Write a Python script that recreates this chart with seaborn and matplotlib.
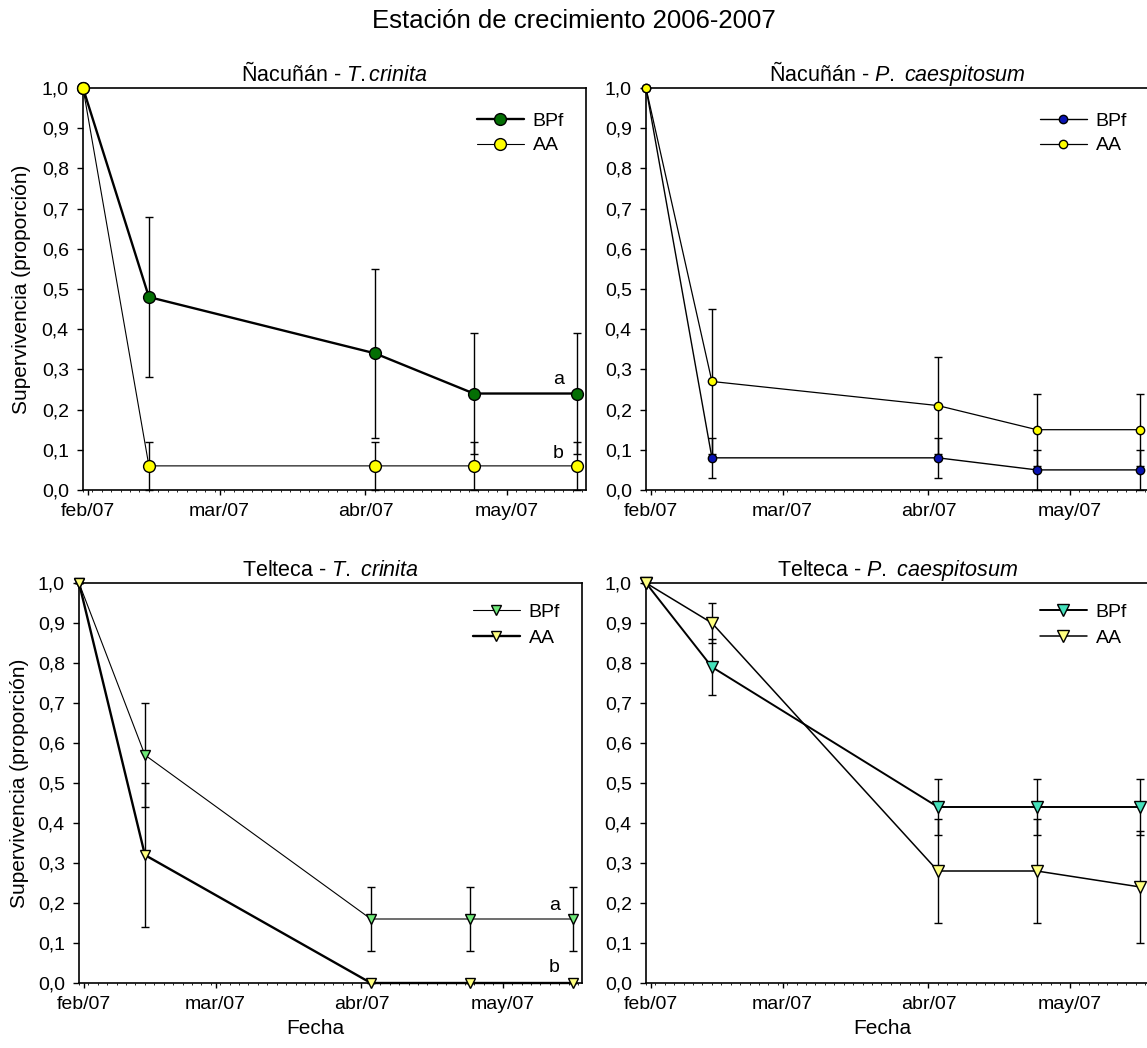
import matplotlib
matplotlib.use("Agg")
import matplotlib.pyplot as plt
import matplotlib.dates as mdates
from matplotlib.ticker import FuncFormatter, MultipleLocator
from matplotlib.lines import Line2D
import pandas as pd
import seaborn as sns

# ---------------------------------------------------------------- data
fechas = pd.to_datetime(["2007-01-31", "2007-02-14", "2007-04-03",
                         "2007-04-24", "2007-05-16"])
series = ["BPf", "AA"]

# Ñacuñán - T. crinita
nac_tc_bpf = [1.0, 0.48, 0.34, 0.24, 0.24]
nac_tc_bpf_err = [0.0, 0.20, 0.21, 0.15, 0.15]
nac_tc_aa = [1.0, 0.06, 0.06, 0.06, 0.06]
nac_tc_aa_err = [0.0, 0.06, 0.06, 0.06, 0.06]

# Ñacuñán - P. caespitosum
nac_pc_bpf = [1.0, 0.08, 0.08, 0.05, 0.05]
nac_pc_bpf_err = [0.0, 0.05, 0.05, 0.05, 0.05]
nac_pc_aa = [1.0, 0.27, 0.21, 0.15, 0.15]
nac_pc_aa_err = [0.0, 0.18, 0.12, 0.09, 0.09]

# Telteca - T. crinita
tel_tc_bpf = [1.0, 0.57, 0.16, 0.16, 0.16]
tel_tc_bpf_err = [0.0, 0.13, 0.08, 0.08, 0.08]
tel_tc_aa = [1.0, 0.32, 0.0, 0.0, 0.0]
tel_tc_aa_err = [0.0, 0.18, 0.0, 0.0, 0.0]

# Telteca - P. caespitosum
tel_pc_bpf = [1.0, 0.79, 0.44, 0.44, 0.44]
tel_pc_bpf_err = [0.0, 0.07, 0.07, 0.07, 0.07]
tel_pc_aa = [1.0, 0.90, 0.28, 0.28, 0.24]
tel_pc_aa_err = [0.0, 0.05, 0.13, 0.13, 0.14]

titulos = [("Ñacuñán", "T.crinita"), ("Ñacuñán", "P.\\ caespitosum"),
           ("Telteca", "T.\\ crinita"), ("Telteca", "P.\\ caespitosum")]
meses = {1: "ene", 2: "feb", 3: "mar", 4: "abr", 5: "may", 6: "jun"}
marcas_mes = pd.to_datetime(["2007-02-01", "2007-03-01", "2007-04-01", "2007-05-01"])

# ---------------------------------------------------------------- style
sns.set_style("ticks")
plt.rcParams["font.family"] = ["Liberation Sans", "DejaVu Sans"]
plt.rcParams["mathtext.fontset"] = "custom"
plt.rcParams["mathtext.rm"] = "Liberation Sans"
plt.rcParams["mathtext.it"] = "Liberation Sans:italic"
for key in ("text.color", "axes.labelcolor", "xtick.color", "ytick.color",
            "axes.edgecolor"):
    plt.rcParams[key] = "black"

FS = 14          # tick labels, legend, letters
FS_LAB = 15      # axis labels
FS_TIT = 15.5    # panel titles
FS_SUP = 18.5    # figure title
W, H = 1147, 1048
fig = plt.figure(figsize=(W / 100, H / 100), dpi=100)


def px_axes(left, top, right, bottom):
    return fig.add_axes([left / W, 1 - bottom / H, (right - left) / W, (bottom - top) / H])


axs = [px_axes(83, 88, 586, 490), px_axes(646, 88, 1149, 490),
       px_axes(79, 583, 582, 983), px_axes(646, 583, 1149, 983)]

# per panel: series values, errors, colours, marker, marker size, line widths
paneles = [
    dict(vals=(nac_tc_bpf, nac_tc_aa), errs=(nac_tc_bpf_err, nac_tc_aa_err),
         colors=("#046f04", "#ffff00"), marker="o", ms=8.5, lws=(1.7, 0.8)),
    dict(vals=(nac_pc_bpf, nac_pc_aa), errs=(nac_pc_bpf_err, nac_pc_aa_err),
         colors=("#0a14b4", "#ffff00"), marker="o", ms=6.0, lws=(1.0, 0.9)),
    dict(vals=(tel_tc_bpf, tel_tc_aa), errs=(tel_tc_bpf_err, tel_tc_aa_err),
         colors=("#6ee878", "#ffff80"), marker="v", ms=7.5, lws=(0.8, 1.7)),
    dict(vals=(tel_pc_bpf, tel_pc_aa), errs=(tel_pc_bpf_err, tel_pc_aa_err),
         colors=("#45e0bb", "#ffff80"), marker="v", ms=8.0, lws=(1.4, 1.1)),
]


def fmt_fecha(x, pos):
    d = mdates.num2date(x)
    return f"{meses[d.month]}/{d:%y}"


for i, (ax, p) in enumerate(zip(axs, paneles)):
    handles = []
    for s, vals, errs, col, lw in zip(series, p["vals"], p["errs"], p["colors"], p["lws"]):
        df = pd.DataFrame({"Fecha": fechas, "Supervivencia": vals})
        ax.errorbar(df["Fecha"], df["Supervivencia"], yerr=errs, fmt="none",
                    ecolor="black", elinewidth=1.0, capsize=3.2, capthick=1.0,
                    zorder=2, clip_on=False)
        sns.lineplot(data=df, x="Fecha", y="Supervivencia", ax=ax, color="black",
                     linewidth=lw, marker=p["marker"], markersize=p["ms"],
                     markerfacecolor=col, markeredgecolor="black",
                     markeredgewidth=1.0, errorbar=None, zorder=3, clip_on=False)
        handles.append(Line2D([], [], color="black", linewidth=lw, marker=p["marker"],
                              markersize=p["ms"], markerfacecolor=col,
                              markeredgecolor="black", markeredgewidth=1.0))

    ax.set_xlim(pd.Timestamp("2007-01-31"), pd.Timestamp("2007-05-17 20:00"))
    ax.set_ylim(0, 1.0)
    ax.set_xticks(marcas_mes)
    ax.xaxis.set_major_formatter(FuncFormatter(fmt_fecha))
    ax.xaxis.set_minor_locator(mdates.DayLocator(interval=2))
    ax.yaxis.set_major_locator(MultipleLocator(0.1))
    ax.yaxis.set_major_formatter(FuncFormatter(lambda v, pos: f"{v:.1f}".replace(".", ",")))
    ax.tick_params(axis="both", which="major", labelsize=FS, length=4.2, width=1.0,
                   color="black", labelcolor="black")
    ax.tick_params(axis="x", which="major", length=3.6, pad=6)
    ax.tick_params(axis="y", which="major", pad=6)
    ax.tick_params(axis="x", which="minor", length=1.6, width=0.6, color="black")
    for sp in ax.spines.values():
        sp.set_visible(True)
        sp.set_linewidth(1.2)
        sp.set_color("black")

    sitio, especie = titulos[i]
    ax.set_title(f"{sitio} - $\\mathit{{{especie}}}$", fontsize=FS_TIT, pad=5,
                 color="black")

    leg = ax.legend(handles, series, loc="upper left",
                    bbox_to_anchor=(0.783, 0.95 if i >= 2 else 0.94),
                    frameon=False, fontsize=FS, handlelength=2.4, handletextpad=0.46,
                    labelspacing=0.36 if i < 2 else 0.46, borderpad=0, borderaxespad=0)
    for t in leg.get_texts():
        t.set_color("black")

    if i % 2 == 0:
        ax.set_ylabel("Supervivencia (proporción)", fontsize=FS_LAB, color="black")
        ax.yaxis.set_label_coords(-0.104 if i == 0 else -0.099, 0.5)
    else:
        ax.set_ylabel("")
    if i >= 2:
        ax.set_xlabel("Fecha", fontsize=FS_LAB, color="black")
        ax.xaxis.set_label_coords(0.47, -0.09)
    else:
        ax.set_xlabel("")

# significance letters
axs[0].text(pd.Timestamp("2007-05-12"), 0.274, "a", fontsize=FS, ha="center", va="center")
axs[0].text(pd.Timestamp("2007-05-12"), 0.092, "b", fontsize=FS, ha="center", va="center")
axs[2].text(pd.Timestamp("2007-05-12"), 0.195, "a", fontsize=FS, ha="center", va="center")
axs[2].text(pd.Timestamp("2007-05-12"), 0.04, "b", fontsize=FS, ha="center", va="center")

fig.text(0.5, 1 - 21 / H, "Estación de crecimiento 2006-2007", fontsize=FS_SUP,
         ha="center", va="center", color="black")

fig.savefig("out.png", dpi=100, facecolor="white")
